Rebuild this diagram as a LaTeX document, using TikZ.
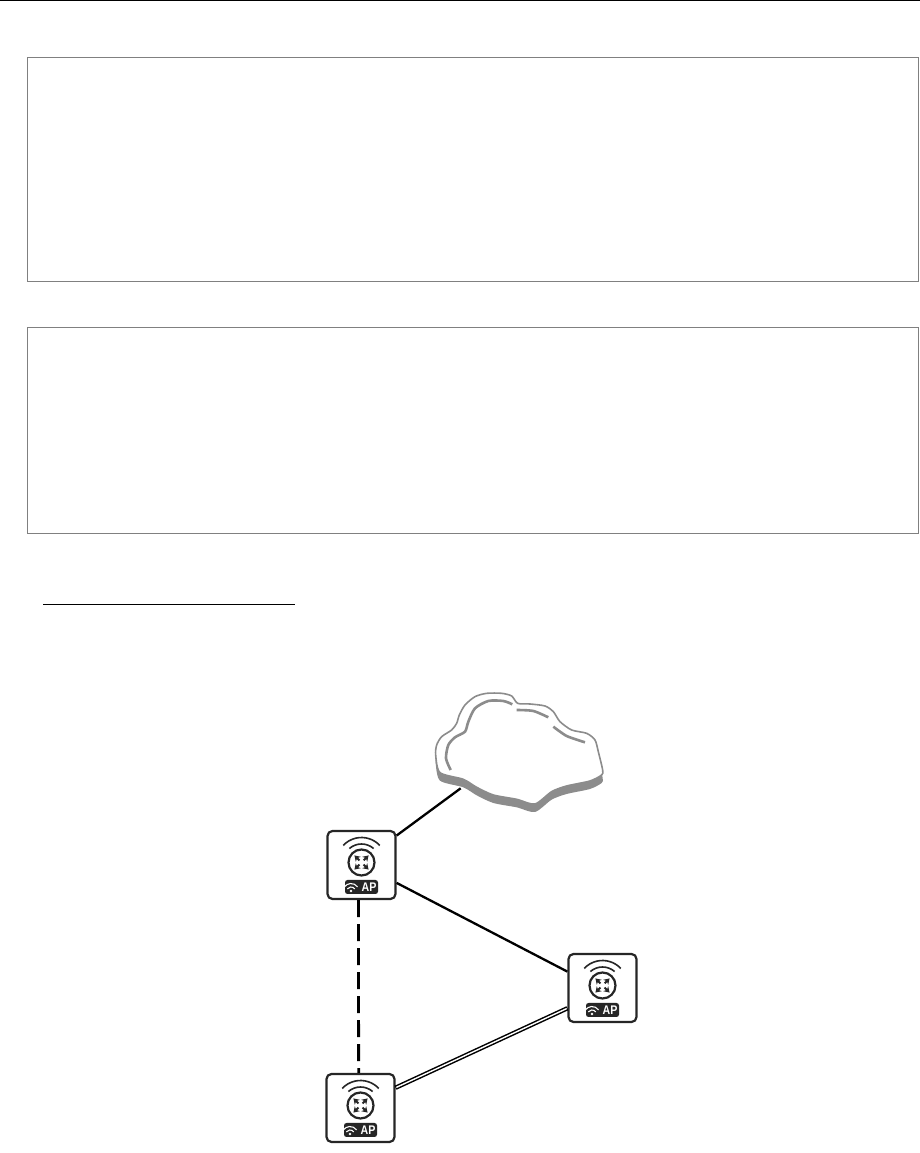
\documentclass[tikz,border=0pt]{standalone}
\usepackage{fontspec}
\setsansfont{Liberation Sans}
\usetikzlibrary{arrows.meta}

\newcommand{\cloudpts}{
  (47,225) (50,195) (65,170) (95,150) (110,130) (118,105) (135,75) (165,50)
  (200,40) (245,40) (275,48) (293,70) (330,72) (375,78) (400,95) (420,125)
  (455,150) (500,160) (525,180) (535,215) (548,270) (545,285) (510,303)
  (440,318) (395,335) (345,372) (290,358) (220,345) (170,322) (130,298) (60,278)
}

\tikzset{
  apbox/.style = {draw = black!85, line width = 2.2pt, fill = white,
    rounded corners = 5pt, minimum width = 68pt, minimum height = 68pt,
    inner sep = 0pt},
  panel/.style = {draw = black!50, line width = 1pt, inner sep = 0pt},
  aplink/.style = {draw = black, line width = 2.3pt},
  apbadge/.style = {fill = black!85, rounded corners = 2.5pt, inner sep = 0pt,
    minimum width = 33pt, minimum height = 14pt},
  aptext/.style = {text = white, inner sep = 0pt, xscale = 0.85,
    font = \sffamily\bfseries\fontsize{12.5}{12.5}\selectfont},
  apglyph/.pic = {
    \draw [line width = 1.6pt, black!85] (0,0) ++(43:25) arc (43:137:25);
    \draw [line width = 1.6pt, black!85] (0,0) ++(49:18.5) arc (49:131:18.5);
    \draw [line width = 2.2pt, black!85, fill = white] (0,0) circle (13);
    \foreach \ang in {45,135,225,315}
      \draw [line width = 1.8pt, black!85, -{Stealth[length = 5.5pt, width = 7pt]}]
        (\ang:3) -- (\ang:10);
    \node at (0,-24.5) [apbadge, name = badge] {};
    \draw [line width = 1.1pt, white] (-10.5,-29) ++(35:8) arc (35:145:8);
    \draw [line width = 1.1pt, white] (-10.5,-29) ++(35:4.5) arc (35:145:4.5);
    \fill [white] (-10.5,-28.5) circle (1.3);
    \node at (7.5,-24.5) [aptext, name = label] {AP};
  }
}

\begin{document}
\begin{tikzpicture}[x = 1pt, y = 1pt]

  \useasboundingbox (0,0) rectangle (920,1153);

  % Page rules and panels
  \draw [line width = 1.5pt] (0,1152.4) -- (920,1152.4);
  \node at (472.5,983.5) [panel, minimum width = 891pt, minimum height = 224pt, name = panel_top] {};
  \node at (472.5,722) [panel, minimum width = 891pt, minimum height = 206pt, name = panel_low] {};
  \draw [line width = 1.2pt] (43,548.5) -- (295,548.5);

  % Cloud
  \begin{scope}[shift = {(420,473)}, x = 0.3333pt, y = -0.3333pt]
    \fill [black!45, yshift = -8pt]
      plot [smooth cycle, tension = 0.45] coordinates {\cloudpts};
    \draw [black!45, line width = 1.6pt, fill = white]
      plot [smooth cycle, tension = 0.45] coordinates {\cloudpts};
    \draw [black!45, line width = 2.6pt] plot [smooth, tension = 0.45] coordinates
      {(92,270) (78,235) (85,195) (105,172) (135,155) (145,125) (165,85) (205,63) (250,63) (277,73)};
    \draw [black!45, line width = 2.6pt] plot [smooth, tension = 0.45] coordinates
      {(290,90) (340,93) (385,112)};
    \draw [black!45, line width = 2.6pt] plot [smooth, tension = 0.45] coordinates
      {(400,140) (440,168) (495,187)};
    \coordinate (cloud_foot) at (122,325);
  \end{scope}

  % Nodes
  \node at (361.5, 288) [apbox, name = AP_A] {};
  \node at (602.5, 165) [apbox, name = AP_B] {};
  \node at (360.5,  45) [apbox, name = AP_C] {};

  \pic (glyph_A) at (361.5, 290.5) {apglyph};
  \pic (glyph_B) at (602.5, 167.5) {apglyph};
  \pic (glyph_C) at (360.5,  47.5) {apglyph};

  % Links
  \draw [aplink] (AP_A.40.6) -- (cloud_foot);
  \draw [aplink] (AP_A.-27) -- (AP_B.155);
  \draw [aplink, line width = 2.8pt, dash pattern = on 17pt off 7pt] (AP_A.-95) -- (AP_C.93);
  \draw [black, line width = 4.4pt] (AP_C.30) -- (AP_B.210);
  \draw [white, line width = 1.4pt, shorten <= 0.8pt, shorten >= 0.8pt] (AP_C.30) -- (AP_B.210);

\end{tikzpicture}
\end{document}
